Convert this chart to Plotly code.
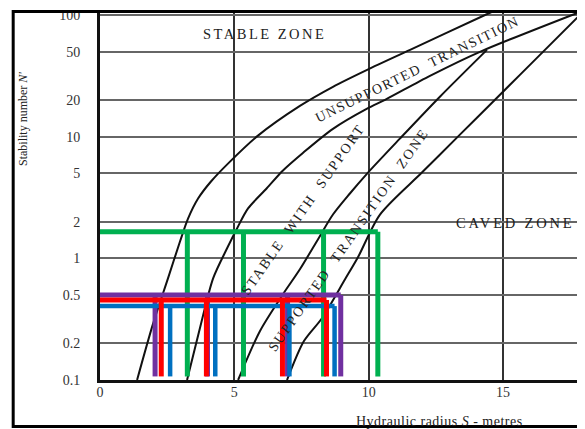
import plotly.graph_objects as go

# ---------------- data ----------------
# boundary curves of the stability graph: hydraulic radius S (m) vs stability number N'
curveA_S = [1.38, 1.97, 2.53, 2.98, 3.28, 3.65, 4.13, 4.80, 5.88, 7.44, 8.67, 9.94, 11.54, 14.33, 15.0]
curveA_N = [0.1, 0.288, 0.685, 1.38, 2.13, 3.10, 4.28, 6.12, 10.2, 17.9, 25.7, 35.4, 51.7, 100, 116]

curveB_S = [3.24, 3.72, 4.21, 4.73, 5.10, 5.51, 6.20, 6.80, 7.55, 8.67, 9.94, 10.61, 12.28, 14.14, 18.05]
curveB_N = [0.1, 0.267, 0.685, 1.21, 1.76, 2.57, 3.75, 5.25, 7.35, 11.6, 17.0, 20.1, 31.6, 49.8, 110]

curveC_S = [5.14, 5.95, 6.81, 7.44, 8.11, 8.67, 9.30, 9.94, 11.16, 12.65, 14.40]
curveC_N = [0.1, 0.252, 0.507, 0.813, 1.43, 2.29, 3.41, 4.97, 9.63, 21.3, 51.7]

curveD_S = [6.96, 7.59, 8.26, 9.12, 9.60, 10.42, 11.98, 13.32, 14.70, 16.56, 18.05]
curveD_N = [0.1, 0.209, 0.322, 0.673, 1.02, 2.29, 5.07, 10.0, 20.1, 51.7, 110]

green_N = 1.65
green_S = [3.25, 5.34, 8.32, 10.34]
purple_N = 0.5
purple_S = [2.05, 4.00, 6.98, 8.96]
blue_N = 0.405
blue_S = [2.61, 4.29, 7.05, 8.73]
red_N = 0.455
red_S = [2.28, 3.96, 6.79, 8.43]
base_N = 0.107

x_ticks = [0, 5, 10, 15]
y_ticks = [0.1, 0.2, 0.5, 1, 2, 5, 10, 20, 50, 100]
y_tick_text = ["0.1", "0.2", "0.5", "1", "2", "5", "10", "20", "50", "100"]

# ---------------- figure ----------------
fig = go.Figure()

for S, N in [(curveA_S, curveA_N), (curveB_S, curveB_N),
             (curveC_S, curveC_N), (curveD_S, curveD_N)]:
    fig.add_trace(go.Scatter(x=S, y=N, mode="lines",
                             line=dict(color="#111111", width=2, shape="spline", smoothing=0.8),
                             hoverinfo="skip", showlegend=False))


def design(level, radii, color, width):
    xs = [0, max(radii), None]
    ys = [level, level, None]
    for s in radii:
        xs += [s, s, None]
        ys += [level, base_N, None]
    fig.add_trace(go.Scatter(x=xs, y=ys, mode="lines",
                             line=dict(color=color, width=width),
                             hoverinfo="skip", showlegend=False))


design(green_N, green_S, "#00B050", 5)
design(purple_N, purple_S, "#7030A0", 5)
design(blue_N, blue_S, "#0070C0", 4.5)
design(red_N, red_S, "#FF0000", 5)

serif = "Liberation Serif, Times New Roman, serif"
tick_font = dict(size=14, family=serif, color="#333333")

fig.update_layout(
    width=585, height=429,
    margin=dict(l=92, r=8, t=0, b=57),
    paper_bgcolor="white", plot_bgcolor="white",
    font=dict(family=serif, color="#222222"),
    xaxis=dict(range=[0, 18.05], tickvals=x_ticks, showgrid=True,
               gridcolor="#333333", gridwidth=1.5, zeroline=False,
               showline=True, linecolor="#111111", linewidth=3,
               ticks="", tickfont=tick_font, ticklabelstandoff=-3),
    yaxis=dict(type="log", range=[-1, 2.041], tickvals=y_ticks, ticktext=y_tick_text,
               showgrid=True, gridcolor="#666666", gridwidth=2, zeroline=False,
               showline=True, linecolor="#111111", linewidth=3,
               ticks="", tickfont=tick_font, ticklabelstandoff=14,
               ticklabeloverflow="allow"),
)

# outer frame
fig.add_shape(type="rect", xref="paper", yref="paper",
              x0=-0.179, x1=1.03, y0=-0.126, y1=0.996,
              line=dict(color="black", width=3), layer="above")


def label(text, x, y, size, angle=0, spacing=0):
    if spacing:
        text = f'<span style="letter-spacing:{spacing}px">{text}</span>'
    fig.add_annotation(text=text, x=x, y=y, xref="paper", yref="paper",
                       xanchor="center", yanchor="middle", showarrow=False,
                       textangle=angle, font=dict(family=serif, size=size, color="#222222"))


label("STABLE ZONE", 0.340, 0.935, 14.5, spacing=2.5)
label("CAVED ZONE", 0.856, 0.425, 14.5, spacing=2.8)
label("UNSUPPORTED&nbsp;&nbsp;TRANSITION", 0.654, 0.838, 14, angle=-26, spacing=1.5)
label("STABLE&nbsp;&nbsp;WITH&nbsp;&nbsp;SUPPORT", 0.419, 0.46, 14, angle=-55, spacing=2)
label("SUPPORTED&nbsp;&nbsp;TRANSITION&nbsp;&nbsp;ZONE", 0.513, 0.38, 14, angle=-55, spacing=2)
label("Stability number <i>N'</i>", -0.159, 0.705, 12, angle=-90)
label("Hydraulic radius <i>S</i> - metres", 0.699, -0.113, 14, spacing=0.5)

fig.write_html("out.html")
